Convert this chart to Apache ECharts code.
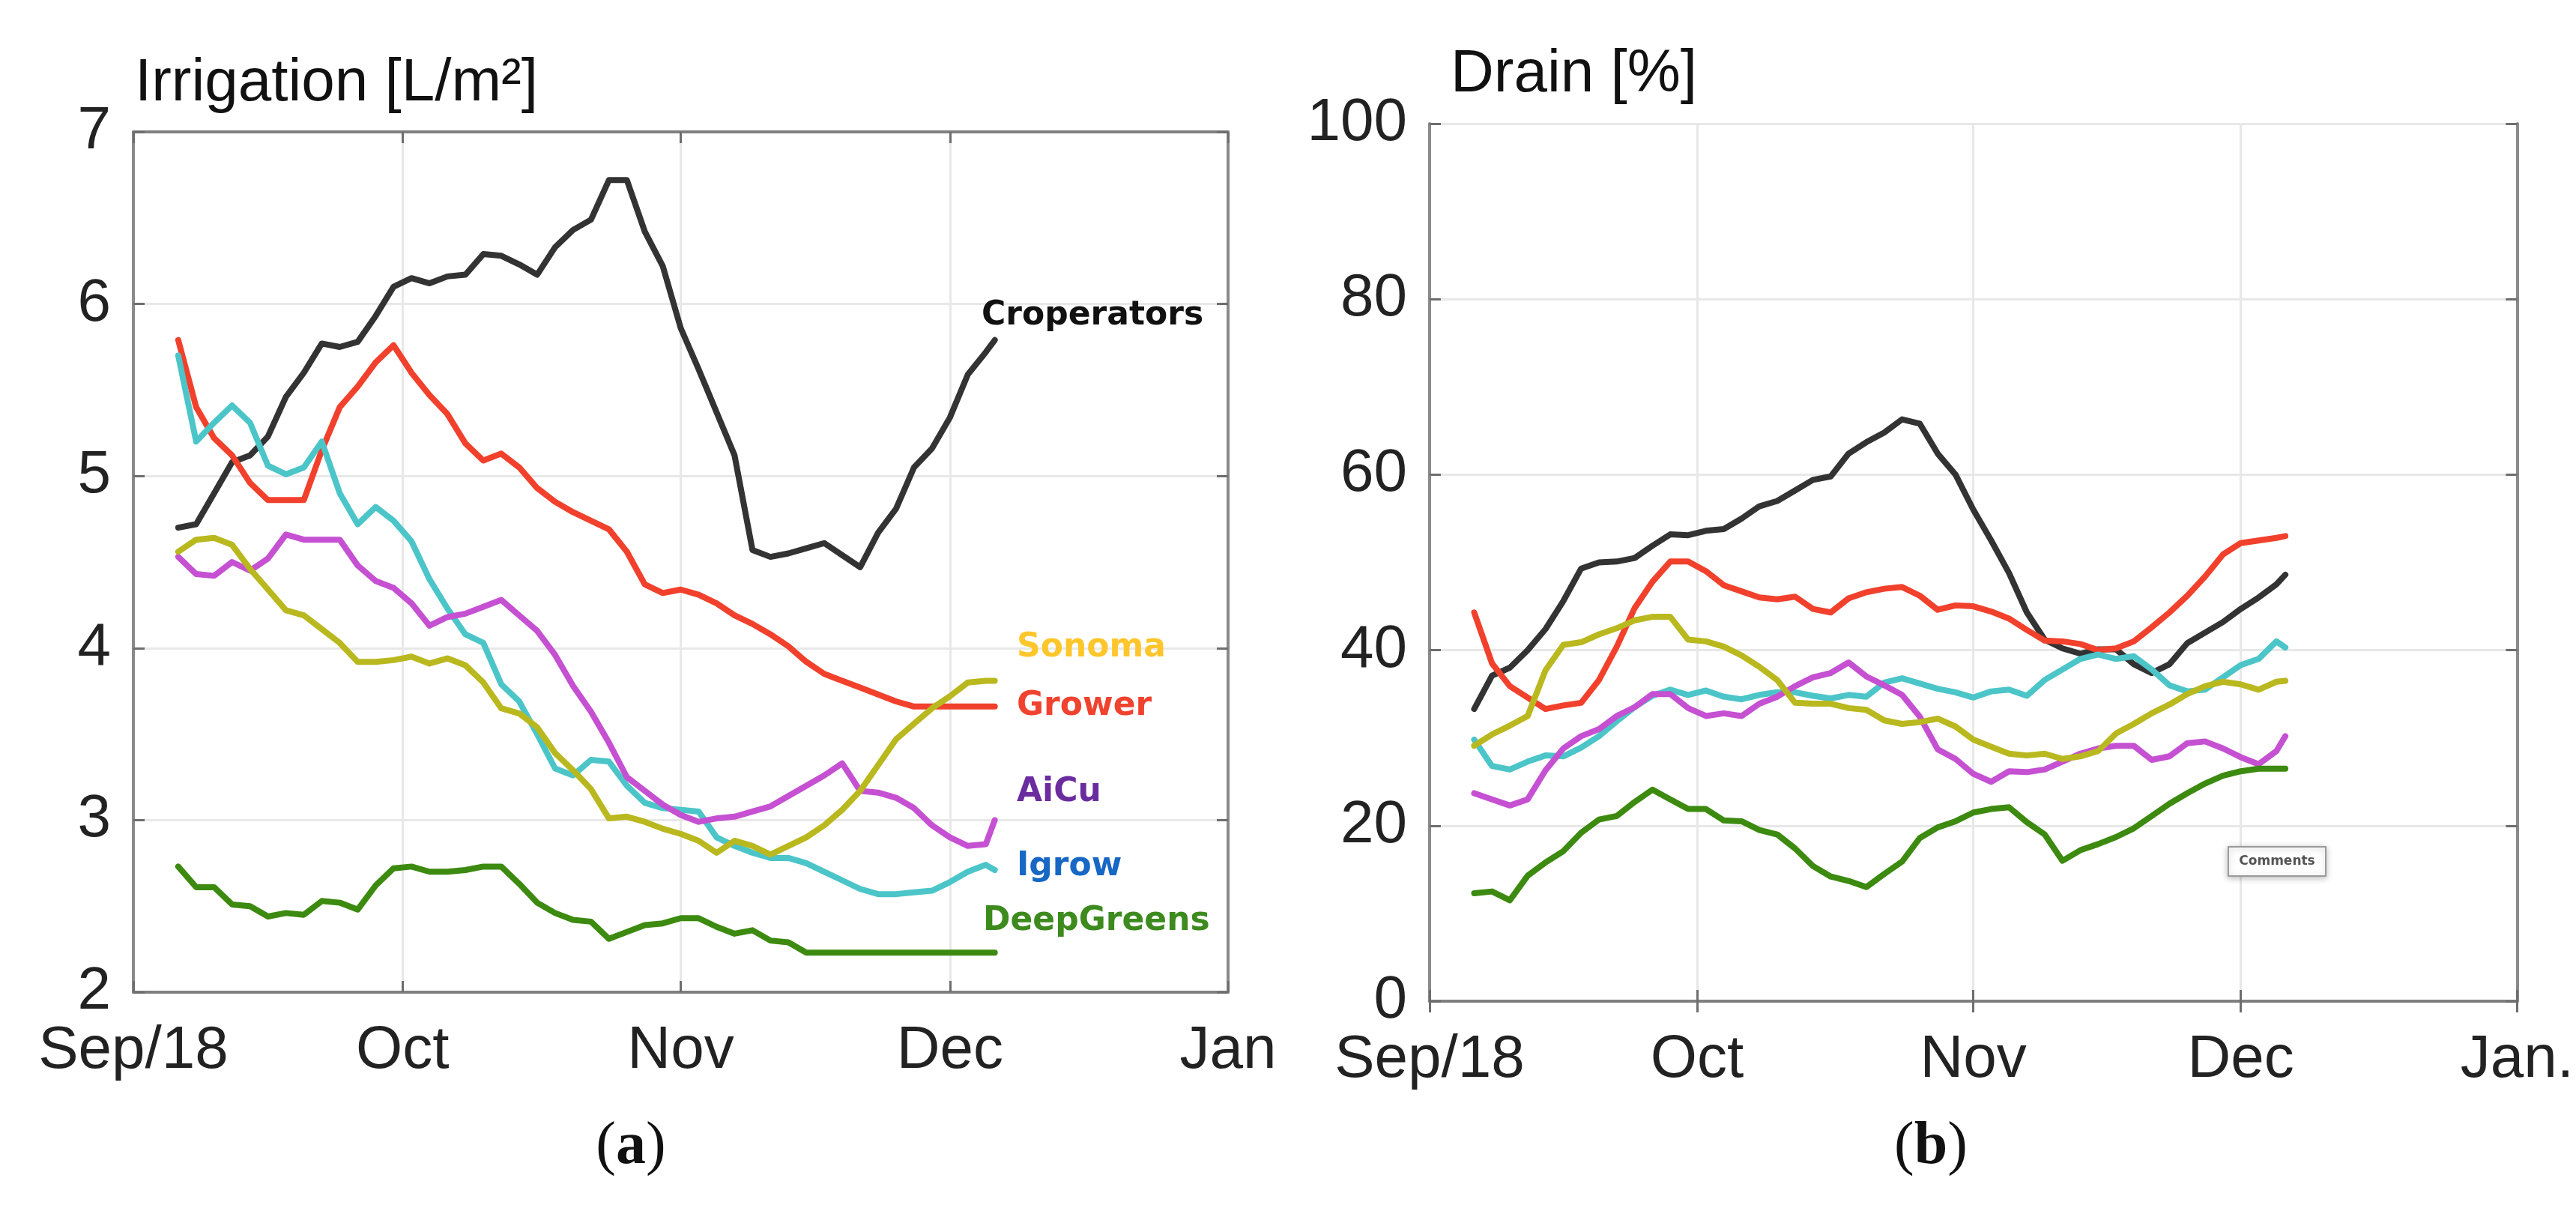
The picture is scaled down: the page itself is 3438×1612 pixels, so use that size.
<!DOCTYPE html>
<html>
<head>
<meta charset="utf-8">
<title>Irrigation and drain</title>
<script src="https://cdn.jsdelivr.net/npm/echarts@6/dist/echarts.min.js"></script>
<style>
  html, body { margin: 0; padding: 0; background: #fff; }
  #main { width: 3438px; height: 1612px; }
</style>
</head>
<body>
<div id="main"></div>
<script>
// sampling dates (every 2 days, last point Dec 6)
var dates = [
  '2018-09-06', '2018-09-08', '2018-09-10', '2018-09-12', '2018-09-14', '2018-09-16',
  '2018-09-18', '2018-09-20', '2018-09-22', '2018-09-24', '2018-09-26', '2018-09-28',
  '2018-09-30', '2018-10-02', '2018-10-04', '2018-10-06', '2018-10-08', '2018-10-10',
  '2018-10-12', '2018-10-14', '2018-10-16', '2018-10-18', '2018-10-20', '2018-10-22',
  '2018-10-24', '2018-10-26', '2018-10-28', '2018-10-30', '2018-11-01', '2018-11-03',
  '2018-11-05', '2018-11-07', '2018-11-09', '2018-11-11', '2018-11-13', '2018-11-15',
  '2018-11-17', '2018-11-19', '2018-11-21', '2018-11-23', '2018-11-25', '2018-11-27',
  '2018-11-29', '2018-12-01', '2018-12-03', '2018-12-05', '2018-12-06'
];

var seriesNames = ['Croperators', 'Grower', 'Igrow', 'AiCu', 'Sonoma', 'DeepGreens'];

// (a) irrigation, L/m2
var irrCroperators = [4.70, 4.72, 4.90, 5.08, 5.12, 5.23, 5.46, 5.60, 5.77, 5.75, 5.78, 5.93, 6.10, 6.15, 6.12, 6.16, 6.17, 6.29, 6.28, 6.23, 6.17, 6.33, 6.43, 6.49, 6.72, 6.72, 6.42, 6.22, 5.86, 5.62, 5.37, 5.12, 4.57, 4.53, 4.55, 4.58, 4.61, 4.54, 4.47, 4.67, 4.81, 5.05, 5.16, 5.34, 5.59, 5.72, 5.79];
var irrGrower = [5.79, 5.40, 5.22, 5.12, 4.96, 4.86, 4.86, 4.86, 5.15, 5.40, 5.52, 5.66, 5.76, 5.60, 5.47, 5.36, 5.19, 5.09, 5.13, 5.05, 4.93, 4.85, 4.79, 4.74, 4.69, 4.56, 4.37, 4.32, 4.34, 4.31, 4.26, 4.19, 4.14, 4.08, 4.01, 3.92, 3.85, 3.81, 3.77, 3.73, 3.69, 3.66, 3.66, 3.66, 3.66, 3.66, 3.66];
var irrIgrow = [5.70, 5.20, 5.31, 5.41, 5.31, 5.06, 5.01, 5.05, 5.20, 4.90, 4.72, 4.82, 4.74, 4.62, 4.40, 4.23, 4.08, 4.03, 3.79, 3.69, 3.50, 3.30, 3.26, 3.35, 3.34, 3.20, 3.10, 3.07, 3.06, 3.05, 2.90, 2.85, 2.81, 2.78, 2.78, 2.75, 2.70, 2.65, 2.60, 2.57, 2.57, 2.58, 2.59, 2.64, 2.70, 2.74, 2.71];
var irrAiCu = [4.53, 4.43, 4.42, 4.50, 4.45, 4.52, 4.66, 4.63, 4.63, 4.63, 4.48, 4.39, 4.35, 4.26, 4.13, 4.18, 4.20, 4.24, 4.28, 4.19, 4.10, 3.96, 3.78, 3.63, 3.45, 3.25, 3.17, 3.09, 3.03, 2.99, 3.01, 3.02, 3.05, 3.08, 3.14, 3.20, 3.26, 3.33, 3.17, 3.16, 3.13, 3.07, 2.97, 2.90, 2.85, 2.86, 3.00];
var irrSonoma = [4.56, 4.63, 4.64, 4.60, 4.46, 4.34, 4.22, 4.19, 4.11, 4.03, 3.92, 3.92, 3.93, 3.95, 3.91, 3.94, 3.90, 3.80, 3.65, 3.62, 3.54, 3.39, 3.29, 3.18, 3.01, 3.02, 2.99, 2.95, 2.92, 2.88, 2.81, 2.88, 2.85, 2.80, 2.85, 2.90, 2.97, 3.06, 3.17, 3.32, 3.47, 3.56, 3.65, 3.72, 3.80, 3.81, 3.81];
var irrDeepGreens = [2.73, 2.61, 2.61, 2.51, 2.50, 2.44, 2.46, 2.45, 2.53, 2.52, 2.48, 2.62, 2.72, 2.73, 2.70, 2.70, 2.71, 2.73, 2.73, 2.63, 2.52, 2.46, 2.42, 2.41, 2.31, 2.35, 2.39, 2.40, 2.43, 2.43, 2.38, 2.34, 2.36, 2.30, 2.29, 2.23, 2.23, 2.23, 2.23, 2.23, 2.23, 2.23, 2.23, 2.23, 2.23, 2.23, 2.23];

// (b) drain, %
var drCroperators = [33.3, 37.1, 38.0, 40.0, 42.4, 45.6, 49.3, 50.0, 50.1, 50.5, 51.9, 53.2, 53.1, 53.6, 53.8, 55.0, 56.4, 57.0, 58.2, 59.4, 59.8, 62.4, 63.7, 64.8, 66.3, 65.8, 62.4, 60.0, 56.0, 52.5, 48.8, 44.3, 41.2, 40.2, 39.6, 40.1, 40.1, 38.4, 37.4, 38.4, 40.8, 42.0, 43.2, 44.7, 46.0, 47.5, 48.6];
var drGrower = [44.3, 38.5, 35.9, 34.6, 33.3, 33.7, 34.0, 36.6, 40.4, 44.8, 47.8, 50.1, 50.1, 49.0, 47.4, 46.7, 46.0, 45.8, 46.1, 44.7, 44.3, 45.9, 46.6, 47.0, 47.2, 46.2, 44.6, 45.1, 45.0, 44.4, 43.6, 42.3, 41.1, 41.0, 40.7, 40.0, 40.2, 41.0, 42.6, 44.3, 46.2, 48.4, 50.9, 52.2, 52.5, 52.8, 53.0];
var drIgrow = [29.8, 26.8, 26.4, 27.3, 28.0, 27.9, 28.9, 30.2, 31.9, 33.5, 34.8, 35.5, 34.9, 35.4, 34.7, 34.4, 34.9, 35.2, 35.2, 34.8, 34.5, 34.9, 34.7, 36.3, 36.8, 36.2, 35.6, 35.2, 34.6, 35.3, 35.5, 34.8, 36.6, 37.8, 39.0, 39.5, 39.0, 39.3, 37.8, 36.0, 35.3, 35.5, 36.9, 38.3, 39.0, 41.0, 40.3];
var drAiCu = [23.7, 23.0, 22.3, 23.0, 26.3, 28.8, 30.2, 31.0, 32.5, 33.5, 35.0, 35.0, 33.4, 32.5, 32.8, 32.5, 33.9, 34.7, 35.9, 36.9, 37.4, 38.6, 37.0, 36.0, 34.9, 32.4, 28.7, 27.6, 25.9, 25.0, 26.2, 26.1, 26.4, 27.3, 28.2, 28.8, 29.1, 29.1, 27.5, 27.9, 29.4, 29.6, 28.8, 27.8, 27.0, 28.5, 30.2];
var drSonoma = [29.1, 30.4, 31.4, 32.5, 37.7, 40.6, 40.9, 41.8, 42.5, 43.4, 43.8, 43.8, 41.2, 41.0, 40.4, 39.4, 38.1, 36.6, 34.0, 33.9, 33.9, 33.4, 33.2, 32.0, 31.6, 31.8, 32.2, 31.3, 29.8, 29.0, 28.2, 28.0, 28.2, 27.6, 27.9, 28.5, 30.5, 31.6, 32.8, 33.8, 35.0, 35.9, 36.4, 36.1, 35.5, 36.4, 36.5];
var drDeepGreens = [12.3, 12.5, 11.5, 14.3, 15.8, 17.1, 19.2, 20.7, 21.1, 22.7, 24.1, 23.0, 21.9, 21.9, 20.6, 20.5, 19.5, 19.0, 17.4, 15.4, 14.2, 13.7, 13.0, 14.5, 15.9, 18.6, 19.8, 20.5, 21.5, 21.9, 22.1, 20.4, 19.0, 16.0, 17.2, 17.9, 18.7, 19.7, 21.1, 22.5, 23.7, 24.8, 25.7, 26.2, 26.5, 26.5, 26.5];

// month tick labels (Sep, Oct, Nov, Dec, Jan)
var irrMonthLabels = ['Sep/18', 'Oct', 'Nov', 'Dec', 'Jan'];
var drMonthLabels = ['Sep/18', 'Oct', 'Nov', 'Dec', 'Jan.'];
var monthOrder = [8, 9, 10, 11, 0];

var irrTicks = [2, 3, 4, 5, 6, 7];
var drTicks = [0, 20, 40, 60, 80, 100];

var lineColors = ['#333333', '#f1412c', '#4cc5c9', '#c551d2', '#b9b81f', '#3c8a0f'];
var labelColors = ['#111111', '#f0432f', '#1767c4', '#6a2c9e', '#ffc62c', '#3d8a1e'];

var DAY = 24 * 3600 * 1000;
var tMin = new Date(2018, 8, 1).getTime();
var tMax = new Date(2019, 0, 1).getTime();

var chart = echarts.init(document.getElementById('main'));

function xAxisFor(gridIndex, position, labels) {
  return {
    type: 'time',
    gridIndex: gridIndex,
    position: position,
    min: tMin,
    max: tMax,
    minInterval: 28 * DAY,
    maxInterval: 31 * DAY,
    axisLine: { show: true, lineStyle: { color: '#7f7f7f', width: 4 } },
    axisTick: { show: true, inside: true, length: 15, lineStyle: { color: '#6e6e6e', width: 3 } },
    splitLine: { show: position === 'bottom', lineStyle: { color: '#e8e8e8', width: 3 } },
    axisLabel: {
      show: position === 'bottom',
      margin: 39,
      fontSize: 80,
      fontFamily: 'Liberation Sans',
      color: '#222222',
      showMinLabel: true,
      showMaxLabel: true,
      hideOverlap: false,
      formatter: function (value) {
        var i = monthOrder.indexOf(new Date(value).getMonth());
        return i >= 0 ? labels[i] : '';
      }
    }
  };
}

function yAxisFor(gridIndex, position, ticks) {
  return {
    type: 'value',
    gridIndex: gridIndex,
    position: position,
    min: ticks[0],
    max: ticks[ticks.length - 1],
    interval: ticks[1] - ticks[0],
    axisLine: { show: true, lineStyle: { color: '#8a8a8a', width: 4 } },
    axisTick: { show: true, inside: true, length: 15, lineStyle: { color: '#6e6e6e', width: 3 } },
    splitLine: { show: position === 'left', lineStyle: { color: '#e8e8e8', width: 3 } },
    axisLabel: {
      show: position === 'left',
      margin: 30,
      fontSize: 80,
      fontFamily: 'Liberation Sans',
      color: '#222222'
    }
  };
}

function pairs(values) {
  return values.map(function (v, i) { return [dates[i], v]; });
}

function lineSeries(name, values, colorIndex, axisIndex) {
  return {
    name: name,
    type: 'line',
    xAxisIndex: axisIndex,
    yAxisIndex: axisIndex,
    data: pairs(values),
    showSymbol: false,
    smooth: false,
    lineStyle: { color: lineColors[colorIndex], width: 8, cap: 'round', join: 'round' },
    z: 3
  };
}

var irrSeries = [irrCroperators, irrGrower, irrIgrow, irrAiCu, irrSonoma, irrDeepGreens];
var drSeries = [drCroperators, drGrower, drIgrow, drAiCu, drSonoma, drDeepGreens];

var series = [];
irrSeries.forEach(function (vals, i) { series.push(lineSeries(seriesNames[i], vals, i, 0)); });
drSeries.forEach(function (vals, i) { series.push(lineSeries(seriesNames[i], vals, i, 2)); });

// name labels next to the line ends in panel (a)
var nameLabelPos = [[1310, 422], [1357, 943], [1357, 1157], [1357, 1058], [1357, 865], [1312, 1230]];
var nameLabels = seriesNames.map(function (n, i) {
  return {
    type: 'text',
    x: nameLabelPos[i][0],
    y: nameLabelPos[i][1],
    style: {
      text: n,
      fontSize: 44,
      fontWeight: 'bold',
      fontFamily: 'DejaVu Sans',
      fill: labelColors[i],
      align: 'left',
      verticalAlign: 'middle'
    },
    z: 10
  };
});

function caption(letter, x) {
  return {
    type: 'text',
    x: x,
    y: 1531,
    style: {
      text: '{n|(}{b|' + letter + '}{n|)}',
      align: 'center',
      verticalAlign: 'middle',
      rich: {
        n: { fontSize: 80, fontFamily: 'Liberation Serif', fill: '#111' },
        b: { fontSize: 80, fontFamily: 'Liberation Serif', fontWeight: 'bold', fill: '#111' }
      }
    }
  };
}

var graphics = [
  {
    type: 'text', x: 180, y: 112,
    style: { text: 'Irrigation [L/m\u00b2]', fontSize: 80, fontFamily: 'Liberation Sans', fill: '#111', align: 'left', verticalAlign: 'middle' }
  },
  {
    type: 'text', x: 1936, y: 100,
    style: { text: 'Drain [%]', fontSize: 80, fontFamily: 'Liberation Sans', fill: '#111', align: 'left', verticalAlign: 'middle' }
  },
  caption('a', 842),
  caption('b', 2577),
  {
    type: 'rect',
    shape: { x: 2974, y: 1130, width: 130, height: 39 },
    style: { fill: '#ffffff', stroke: '#9a9a9a', lineWidth: 2, shadowBlur: 8, shadowColor: 'rgba(0,0,0,0.25)', shadowOffsetY: 2 },
    z: 10
  },
  {
    type: 'text', x: 3039, y: 1150,
    style: { text: 'Comments', fontSize: 17, fontWeight: 'bold', fontFamily: 'DejaVu Sans', fill: '#555', align: 'center', verticalAlign: 'middle' },
    z: 11
  }
].concat(nameLabels);

chart.setOption({
  animation: false,
  backgroundColor: '#ffffff',
  grid: [
    { left: 178, top: 176, width: 1461, height: 1148, containLabel: false },
    { left: 1908, top: 165, width: 1487, height: 1171, containLabel: false }
  ],
  xAxis: [
    xAxisFor(0, 'bottom', irrMonthLabels),
    xAxisFor(0, 'top', irrMonthLabels),
    xAxisFor(1, 'bottom', drMonthLabels),
    xAxisFor(1, 'top', drMonthLabels)
  ],
  yAxis: [
    yAxisFor(0, 'left', irrTicks),
    yAxisFor(0, 'right', irrTicks),
    yAxisFor(1, 'left', drTicks),
    yAxisFor(1, 'right', drTicks)
  ],
  series: series,
  graphic: graphics
});
</script>
</body>
</html>
